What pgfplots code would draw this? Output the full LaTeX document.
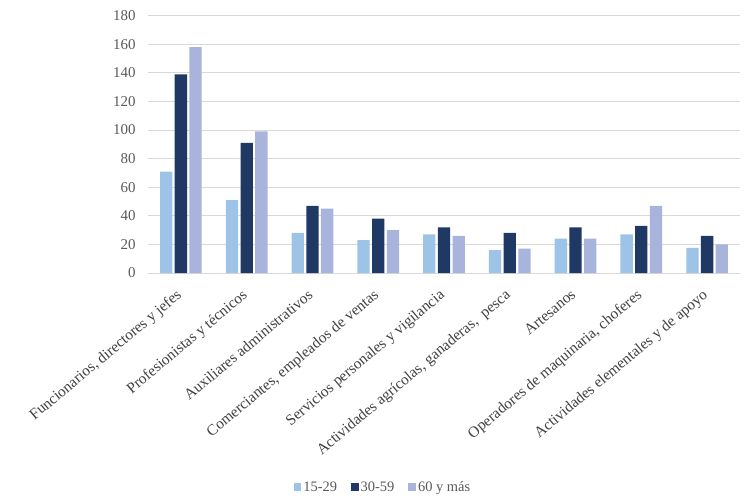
\documentclass[border=0pt]{standalone}
\usepackage{pgfplots}
\usepackage{pgfplotstable}
\pgfplotsset{compat=1.18}
\usepackage{fontspec}
\setmainfont{Liberation Serif}

\definecolor{cjov}{HTML}{9DC3E6}
\definecolor{cadu}{HTML}{1F3864}
\definecolor{cmay}{HTML}{A9B4DC}
\definecolor{gridc}{HTML}{D9D9D9}
\definecolor{txt}{HTML}{595959}
\definecolor{lbl}{HTML}{404040}

% x  15-29  30-59  60 y mas
\pgfplotstableread{
x a    b    c
0 71   139  158
1 51   91   99
2 28   47   45
3 23   38   30
4 27   32   26
5 16   28   17
6 24   32   24
7 27   33   47
8 17.5 26   20
}\datos

\begin{document}
\begin{tikzpicture}
\begin{axis}[
  width=592bp, height=257.3bp, scale only axis,
  ymin=0, ymax=180, ytick={0,20,...,180},
  xmin=-0.5, xmax=8.5, xtick={0,...,8},
  xticklabels={{Funcionarios, directores y jefes},{Profesionistas y técnicos},{Auxiliares administrativos},{Comerciantes, empleados de ventas},{Servicios personales y vigilancia},{Actividades agrícolas, ganaderas,\ \ pesca},{Artesanos},{Operadores de maquinaria, choferes},{Actividades elementales y de apoyo}},
  ybar=2.4bp, bar width=12.3bp,
  axis line style={draw=none},
  ymajorgrids, grid style={gridc, line width=0.9bp},
  major tick length=0pt,
  /pgf/number format/assume math mode=true,
  yticklabel style={text=txt, font=\fontsize{15}{17}\selectfont, xshift=-9bp},
  xticklabel style={text=lbl, font=\fontsize{15.4}{18}\selectfont, rotate=40, anchor=north east, inner sep=2bp, xshift=-12bp, yshift=-6bp},
  legend style={at={(rel axis cs:0.397,-0.832)}, anchor=center, draw=none,
    font=\fontsize{14.5}{17}\selectfont, text=txt,
    /tikz/every even column/.append style={column sep=12bp}},
  legend columns=-1,
  legend image code/.code={\fill[#1] (0bp,-3.8bp) rectangle (7.6bp,3.8bp);},
]
\addplot[fill=cjov, draw=none] table[x=x, y=a]{\datos};
\addplot[fill=cadu, draw=none] table[x=x, y=b]{\datos};
\addplot[fill=cmay, draw=none] table[x=x, y=c]{\datos};
\legend{15-29, 30-59, 60 y más}
\end{axis}
\path (current axis.south west) ++(-148bp,-227bp) rectangle ++(750bp,500bp);
\end{tikzpicture}
\end{document}
